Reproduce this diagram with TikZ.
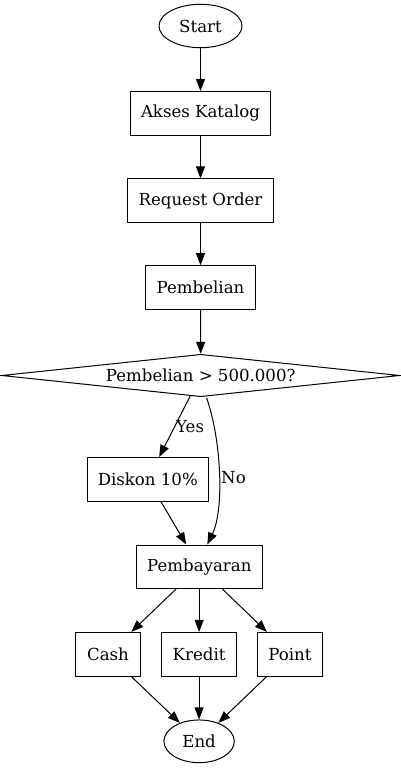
\documentclass[tikz,border=0pt]{standalone}
\usepackage{fontspec}
\setmainfont{DejaVu Serif}
\usetikzlibrary{shapes.geometric,arrows.meta}
\begin{document}
\begin{tikzpicture}[x=1pt,y=-1pt,
  every node/.style={font=\fontsize{16.6}{19}\selectfont, inner sep=0pt},
  box/.style={draw, line width=1pt, rectangle, minimum height=43.6pt},
  oval/.style={draw, line width=1pt, ellipse},
  dec/.style={draw, line width=1pt, diamond, aspect=9.39, minimum width=398pt, minimum height=42.4pt},
  edge/.style={line width=1pt, -{Triangle[length=12pt,width=9pt]}},
  lbl/.style={font=\fontsize{16.6}{19}\selectfont}
]
\useasboundingbox (0,0) rectangle (401,768);
\node[oval, minimum width=83pt, minimum height=43.4pt] (start) at (200.5,26) {Start};
\node[box, minimum width=140pt] (akses) at (200.5,113.3) {Akses Katalog};
\node[box, minimum width=145.7pt] (req) at (200.5,200.7) {Request Order};
\node[box, minimum width=110pt] (beli) at (200.5,287.5) {Pembelian};
\node[dec] (cek) at (200.7,375.5) {Pembelian > 500.000?};
\node[box, minimum width=121pt] (diskon) at (147.8,479.3) {Diskon 10\%};
\node[box, minimum width=126pt] (bayar) at (199.3,566.8) {Pembayaran};
\node[box, minimum width=64.7pt] (cash) at (108,654.2) {Cash};
\node[box, minimum width=74.3pt] (kredit) at (199.1,654.2) {Kredit};
\node[box, minimum width=65.3pt] (point) at (290,654.2) {Point};
\node[oval, minimum width=70.4pt, minimum height=42.7pt] (end) at (199.1,741.3) {End};

\draw[edge] (start) -- (akses);
\draw[edge] (akses) -- (req);
\draw[edge] (req) -- (beli);
\draw[edge] (beli) -- (cek);
\draw[edge] (cek) -- node[lbl, right, xshift=1pt] {Yes} (diskon);
\draw[edge] ([xshift=5.9pt,yshift=-0.6pt]cek.south) .. controls +(15,43) and +(17,-35) .. ([xshift=8pt]bayar.north);
\node[lbl] (nolbl) at (233.5,478) {No};
\draw[edge] (diskon) -- (bayar);
\draw[edge] (bayar) -- (cash);
\draw[edge] (bayar.south -| kredit) -- (kredit);
\draw[edge] (bayar) -- (point);
\draw[edge] (cash) -- (end);
\draw[edge] (kredit) -- (end);
\draw[edge] (point) -- (end);
\end{tikzpicture}
\end{document}
